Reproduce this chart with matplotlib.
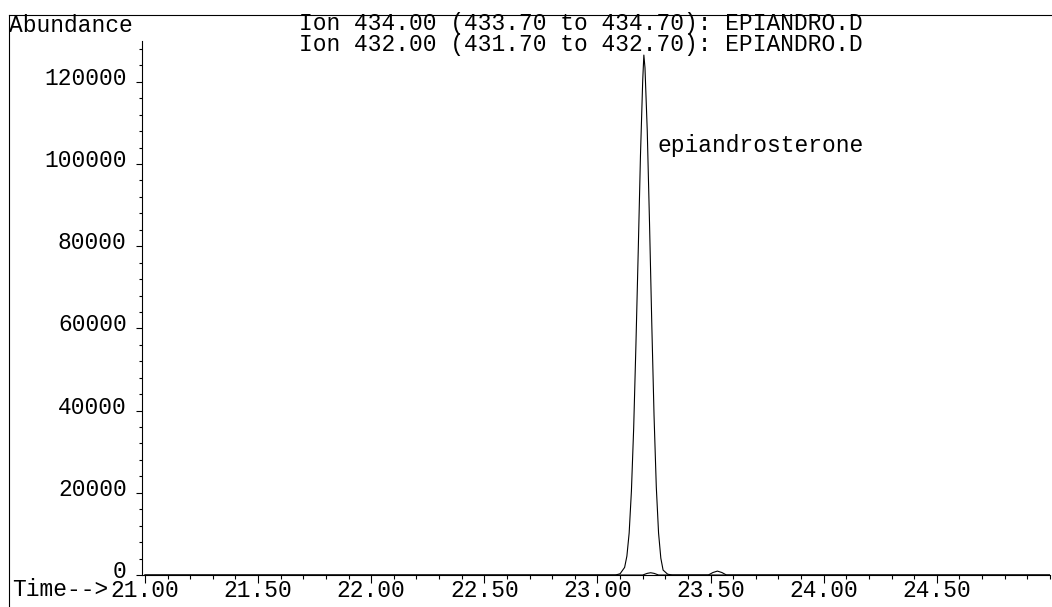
import matplotlib.pyplot as plt
from matplotlib.lines import Line2D
from matplotlib.ticker import FixedLocator, MultipleLocator, FormatStrFormatter
from matplotlib.transforms import ScaledTranslation

# ion 434 trace (main peak)
time_434 = [21.00, 22.00, 23.00, 23.08, 23.10, 23.12, 23.13, 23.14, 23.15, 23.16,
            23.17, 23.18, 23.19, 23.20, 23.205, 23.21, 23.22, 23.23, 23.24, 23.25,
            23.26, 23.27, 23.28, 23.29, 23.31, 23.33, 24.00, 25.00]
abund_434 = [0, 0, 0, 0, 300, 1850, 4600, 10200, 20400, 35700,
             56100, 78500, 102000, 120400, 126500, 123400, 108100, 85700, 61200, 38800,
             21400, 10200, 4100, 1200, 200, 0, 0, 0]

# ion 432 trace (small bumps)
time_432 = [21.00, 23.20, 23.22, 23.235, 23.25, 23.27, 23.49, 23.51, 23.53, 23.55, 23.57, 25.00]
abund_432 = [0, 0, 400, 550, 400, 0, 0, 600, 950, 600, 0, 0]

header_lines = ["Ion 434.00 (433.70 to 434.70): EPIANDRO.D",
                "Ion 432.00 (431.70 to 432.70): EPIANDRO.D"]
xticks = [21.0, 21.5, 22.0, 22.5, 23.0, 23.5, 24.0, 24.5]
yticks = [0, 20000, 40000, 60000, 80000, 100000, 120000]

plt.rcParams['font.family'] = ['Liberation Mono', 'DejaVu Sans Mono']
FS = 16.5
W, H = 1052, 607

fig = plt.figure(figsize=(W / 100, H / 100), dpi=100)
ax = fig.add_axes([142 / W, 1 - 575 / H, (1050 - 142) / W, (575 - 15) / H])

ax.plot(time_434, abund_434, color="black", lw=0.8)
ax.plot(time_432, abund_432, color="black", lw=0.8)

ax.set_xlim(20.987, 25.0)
ax.set_ylim(0, 136250)

for s in ["top", "right"]:
    ax.spines[s].set_visible(False)
ax.spines['left'].set_bounds(0, 130000)
ax.spines['left'].set_linewidth(0.8)
ax.spines['bottom'].set_linewidth(0.8)

ax.set_xticks(xticks)
ax.xaxis.set_minor_locator(MultipleLocator(0.1))
ax.xaxis.set_major_formatter(FormatStrFormatter("%.2f"))
ax.set_yticks(yticks)
ax.yaxis.set_minor_locator(FixedLocator(range(0, 130001, 4000)))

ax.tick_params(axis='x', which='major', length=6, width=0.8, pad=-3, labelsize=FS)
ax.tick_params(axis='x', which='minor', length=3, width=0.8)
ax.tick_params(axis='y', which='major', length=4, width=0.8, pad=7, labelsize=FS)
ax.tick_params(axis='y', which='minor', length=2, width=0.8)

# y labels sit a little above their ticks in the original
shift = ScaledTranslation(0, 6 / 100, fig.dpi_scale_trans)
for lab in ax.get_yticklabels():
    lab.set_transform(lab.get_transform() + shift)

ax.text(23.265, 104600, "epiandrosterone", fontsize=FS, ha='left', va='center')

# outer frame
fig.add_artist(Line2D([9 / W, 9 / W], [0, 1 - 15 / H], color="black", lw=0.8))
fig.add_artist(Line2D([9 / W, 1], [1 - 15 / H, 1 - 15 / H], color="black", lw=0.8))

fig.text(9 / W, 1 - 32 / H, "Abundance", fontsize=FS, ha='left', va='baseline')
fig.text(299 / W, 1 - 30 / H, header_lines[0], fontsize=FS, ha='left', va='baseline')
fig.text(299 / W, 1 - 51 / H, header_lines[1], fontsize=FS, ha='left', va='baseline')
fig.text(12 / W, 1 - 590 / H, "Time-->", fontsize=FS, ha='left', va='center')

fig.savefig("out.png", dpi=100)
